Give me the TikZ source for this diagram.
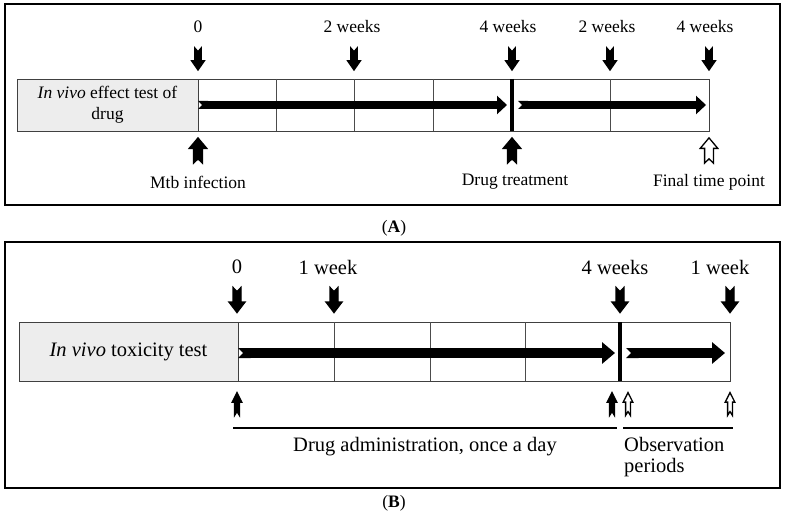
\documentclass[tikz,border=0pt]{standalone}
\usepackage{fontspec}
\setmainfont{Liberation Serif}
\usetikzlibrary{arrows.meta}
\newcommand{\fsA}{\fontsize{17.5}{21}\selectfont}
\newcommand{\fsB}{\fontsize{20.5}{21}\selectfont}
\tikzset{
  % --- Rahmen und Zellen ------------------------------------
  panel/.style={draw, line width=2pt},
  namecell/.style={draw=black!75, fill=black!7, line width=0.9pt,
    inner sep=0pt, align=center},
  cellbox/.style={draw=black!75, line width=0.9pt, inner sep=0pt},
  cellline/.style={draw=black!70, line width=0.9pt},
  divline/.style={line width=3.5pt},
  % --- Beschriftungen ---------------------------------------
  tlabA/.style={font=\fsA, inner sep=1pt},
  tlabB/.style={font=\fsB, inner sep=1pt},
  caption/.style={font=\fsA, inner sep=1pt},
  % --- Zeitpfeile -------------------------------------------
  tlA/.style={line width=8pt,
    {Triangle Cap[reversed]}-{Triangle[length=10pt, width=18pt]}},
  tlB/.style={line width=10pt,
    {Triangle Cap[reversed]}-{Triangle[length=13pt, width=21pt]}},
  spanline/.style={line width=2.6pt},
  % --- Markierungspfeile ------------------------------------
  pics/tmark/.style={code={
    \draw[line join=miter, line width=1.3pt, pic actions]
      (-4,-12) -- (0,-8) -- (4,-12) -- (4,2) -- (8,2) -- (0,12)
      -- (-8,2) -- (-4,2) -- cycle;}},
  solidmk/.style={fill=black},
  openmk/.style={fill=white}
}

\begin{document}
\begin{tikzpicture}[x=1pt, y=-1pt]
  \useasboundingbox (0,0) rectangle (786,518);

  % --- Teil A: Wirksamkeit -----------------------------------
  \draw[panel] (5,4) rectangle (780,205);
  \node[namecell, minimum width=181pt, minimum height=52pt, font=\fsA]
    (Aname) at (107.5,105) {\textit{In vivo} effect test of\\drug};
  \node[cellbox, minimum width=511pt, minimum height=52pt]
    (Abox) at (453.5,105) {};
  \foreach \gx in {276,354,433,610}
    \draw[cellline] (\gx,79) -- (\gx,131);
  \draw[divline] (512,79) -- (512,131);

  \coordinate (A0) at (198,105);
  \coordinate (A1) at (507,105);
  \coordinate (A2) at (518,105);
  \coordinate (A3) at (706,105);
  \draw[tlA] (A0) -- (A1);
  \draw[tlA] (A2) -- (A3);

  \node[tlabA] (At0) at (198,27) {0};
  \node[tlabA] (At1) at (352,27) {2 weeks};
  \node[tlabA] (At2) at (508,27) {4 weeks};
  \node[tlabA] (At3) at (607,27) {2 weeks};
  \node[tlabA] (At4) at (705,27) {4 weeks};
  \foreach \gx in {198,354,512,610,709}
    \pic[solidmk, xscale=0.8, yscale=0.92] at (\gx,59) {tmark};

  \pic[solidmk, rotate=180, xscale=1.1, yscale=1.05] at (198,150.5) {tmark};
  \pic[solidmk, rotate=180, xscale=1.1, yscale=1.05] at (512,150.5) {tmark};
  \pic[openmk, rotate=180, xscale=1.1, yscale=1.05] at (709,150.5) {tmark};
  \node[tlabA] (Ab0) at (198,182) {Mtb infection};
  \node[tlabA] (Ab1) at (515,182) {Drug treatment};
  \node[tlabA] (Ab2) at (709,182) {Final time point};

  \node[caption] (capA) at (394,228) {(\textbf{A})};

  % --- Teil B: Toxizitaet ------------------------------------
  \draw[panel] (5,242) rectangle (780,488);
  \node[namecell, minimum width=219pt, minimum height=59pt, font=\fsB]
    (Bname) at (128.5,351.5) {\textit{In vivo} toxicity test};
  \node[cellbox, minimum width=492pt, minimum height=59pt]
    (Bbox) at (484,351.5) {};
  \foreach \gx in {334,430,525}
    \draw[cellline] (\gx,322) -- (\gx,381);
  \draw[divline] (620,322) -- (620,381);

  \coordinate (B0) at (238,353);
  \coordinate (B1) at (615,353);
  \coordinate (B2) at (626,353);
  \coordinate (B3) at (725,353);
  \draw[tlB] (B0) -- (B1);
  \draw[tlB] (B2) -- (B3);

  \node[tlabB] (Bt0) at (237,267) {0};
  \node[tlabB] (Bt1) at (328,267) {1 week};
  \node[tlabB] (Bt2) at (615,267) {4 weeks};
  \node[tlabB] (Bt3) at (720,267) {1 week};
  \foreach \gx in {237,334,620,730}
    \pic[solidmk, xscale=1.0, yscale=1.05] at (\gx,300) {tmark};

  \pic[solidmk, rotate=180, xscale=0.6, yscale=0.95] at (237,404) {tmark};
  \pic[solidmk, rotate=180, xscale=0.6, yscale=0.95] at (612,404) {tmark};
  \pic[openmk, rotate=180, xscale=0.6, yscale=0.95] at (628,404) {tmark};
  \pic[openmk, rotate=180, xscale=0.6, yscale=0.95] at (730,404) {tmark};

  \coordinate (S0) at (233,428);
  \coordinate (S1) at (617,428);
  \coordinate (S2) at (623,428);
  \coordinate (S3) at (733,428);
  \draw[spanline] (S0) -- (S1);
  \draw[spanline] (S2) -- (S3);
  \node[tlabB] (Bb0) at (425,447) {Drug administration, once a day};
  \node[tlabB, align=left, anchor=north west] (Bb1) at (623,436)
    {Observation\\periods};

  \node[caption] (capB) at (394,503) {(\textbf{B})};
\end{tikzpicture}
\end{document}
